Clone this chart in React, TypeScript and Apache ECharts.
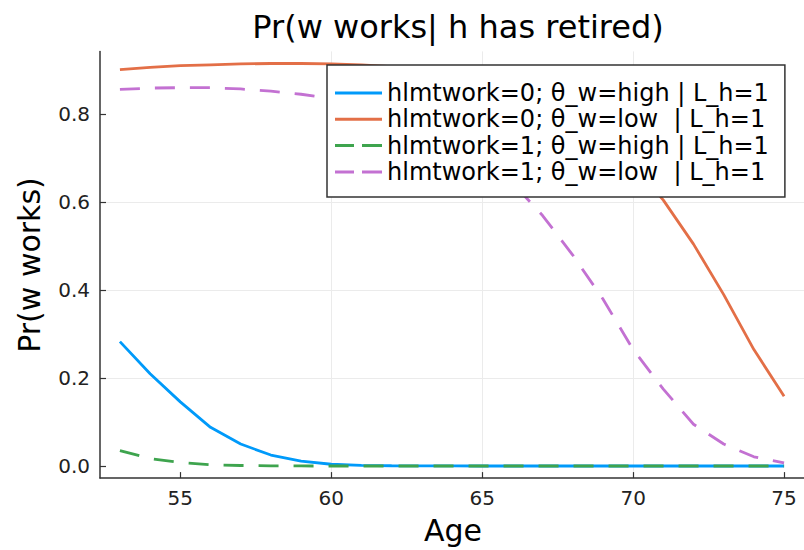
import React, { useEffect, useRef } from "react";
import * as echarts from "echarts";

const ages = [53, 54, 55, 56, 57, 58, 59, 60, 61, 62, 63, 64, 65, 66, 67, 68, 69, 70, 71, 72, 73, 74, 75];
const hiW0 = [0.283, 0.21, 0.146, 0.088, 0.05, 0.025, 0.011, 0.004, 0.0015, 0.0006, 0.0002, 0.0001, 0, 0, 0, 0, 0, 0, 0, 0, 0, 0, 0];
const loW0 = [0.902, 0.907, 0.911, 0.913, 0.915, 0.916, 0.916, 0.915, 0.913, 0.909, 0.903, 0.895, 0.883, 0.866, 0.84, 0.8, 0.75, 0.685, 0.605, 0.505, 0.39, 0.265, 0.159];
const hiW1 = [0.035, 0.017, 0.008, 0.003, 0.0012, 0.0004, 0.0001, 0, 0, 0, 0, 0, 0, 0, 0, 0, 0, 0, 0, 0, 0, 0, 0];
const loW1 = [0.857, 0.86, 0.861, 0.861, 0.858, 0.853, 0.846, 0.836, 0.822, 0.8, 0.775, 0.74, 0.7, 0.645, 0.57, 0.48, 0.38, 0.265, 0.175, 0.095, 0.05, 0.021, 0.007];

const seriesNames = [
  "hlmtwork=0; θ_w=high | L_h=1",
  "hlmtwork=0; θ_w=low  | L_h=1",
  "hlmtwork=1; θ_w=high | L_h=1",
  "hlmtwork=1; θ_w=low  | L_h=1",
];
const xTicks = [55, 60, 65, 70, 75];
const yTicks = [0, 0.2, 0.4, 0.6, 0.8];
const titleText = "Pr(w works| h has retired)";
const xName = "Age";
const yName = "Pr(w works)";

const FONT = "DejaVu Sans";
const colors = ["#009AFA", "#E36F47", "#3EA44E", "#C371D2"];
const dashed = [false, false, true, true];
const solidIcon = "path://M0,0h47v3h-47z";
const dashIcon = "path://M0,0h19v3h-19zM27,0h20v3h-20z";

export default function App() {
  const ref = useRef<HTMLDivElement>(null);
  useEffect(() => {
    if (!ref.current) return;
    const chart = echarts.init(ref.current, undefined, { renderer: "svg" });
    const values = [hiW0, loW0, hiW1, loW1];
    const axisColor = "#333";
    chart.setOption({
      animation: false,
      backgroundColor: "#fff",
      title: {
        text: titleText,
        left: 453,
        top: 6,
        textAlign: "center",
        textStyle: { fontFamily: FONT, fontSize: 32, fontWeight: "normal", color: "#000" },
      },
      grid: { left: 100, right: -3, top: 51.4, bottom: 71.9, containLabel: false },
      xAxis: {
        type: "value",
        min: 52.34,
        max: 75.66,
        axisLine: { show: true, onZero: false, lineStyle: { color: axisColor, width: 1.5 } },
        axisTick: { show: true, inside: true, length: 6, customValues: xTicks, lineStyle: { color: axisColor, width: 1.2 } },
        axisLabel: {
          customValues: xTicks,
          fontFamily: FONT,
          fontSize: 20,
          color: "#222",
          margin: 10,
          formatter: (v: number) => String(Math.round(v)),
        },
        splitLine: { show: true, showMinLine: false, showMaxLine: false, lineStyle: { color: "#ebebeb", width: 1 } },
      },
      yAxis: {
        type: "value",
        min: -0.0275,
        max: 0.9435,
        axisLine: { show: true, onZero: false, lineStyle: { color: axisColor, width: 1.5 } },
        axisTick: { show: true, inside: true, length: 6, customValues: yTicks, lineStyle: { color: axisColor, width: 1.2 } },
        axisLabel: {
          customValues: yTicks,
          fontFamily: FONT,
          fontSize: 20,
          color: "#222",
          margin: 10,
          formatter: (v: number) => v.toFixed(1),
        },
        splitLine: { show: true, showMinLine: false, showMaxLine: false, lineStyle: { color: "#ebebeb", width: 1 } },
      },
      legend: {
        orient: "vertical",
        left: 327,
        top: 65,
        backgroundColor: "#fff",
        borderColor: "#333",
        borderWidth: 1.5,
        borderRadius: 0,
        padding: [15, 16, 12, 8],
        itemWidth: 47,
        itemHeight: 3,
        itemGap: 0.3,
        symbolKeepAspect: false,
        textStyle: { fontFamily: FONT, fontSize: 24, color: "#000", lineHeight: 26 },
        data: seriesNames.map((n, i) => ({
          name: n,
          icon: dashed[i] ? dashIcon : solidIcon,
          itemStyle: { color: colors[i] },
        })),
      },
      graphic: [
        {
          type: "text",
          x: 29,
          y: 265,
          rotation: Math.PI / 2,
          style: { text: yName, fontFamily: FONT, fontSize: 30, fill: "#000", textAlign: "center", textVerticalAlign: "middle" },
        },
        {
          type: "text",
          x: 453,
          y: 530,
          style: { text: xName, fontFamily: FONT, fontSize: 30, fill: "#000", textAlign: "center", textVerticalAlign: "middle" },
        },
      ],
      series: seriesNames.map((n, i) => ({
        name: n,
        type: "line",
        data: ages.map((a, j) => [a, values[i][j]]),
        symbol: "none",
        showSymbol: false,
        color: colors[i],
        itemStyle: { color: colors[i] },
        lineStyle: { color: colors[i], width: 2.8, type: dashed[i] ? [20, 15] : "solid" },
        z: 2 + i * 0.01,
      })),
    });
    return () => chart.dispose();
  }, []);
  return <div ref={ref} style={{ width: 804, height: 550, position: "absolute", left: 0, top: 0 }} />;
}
